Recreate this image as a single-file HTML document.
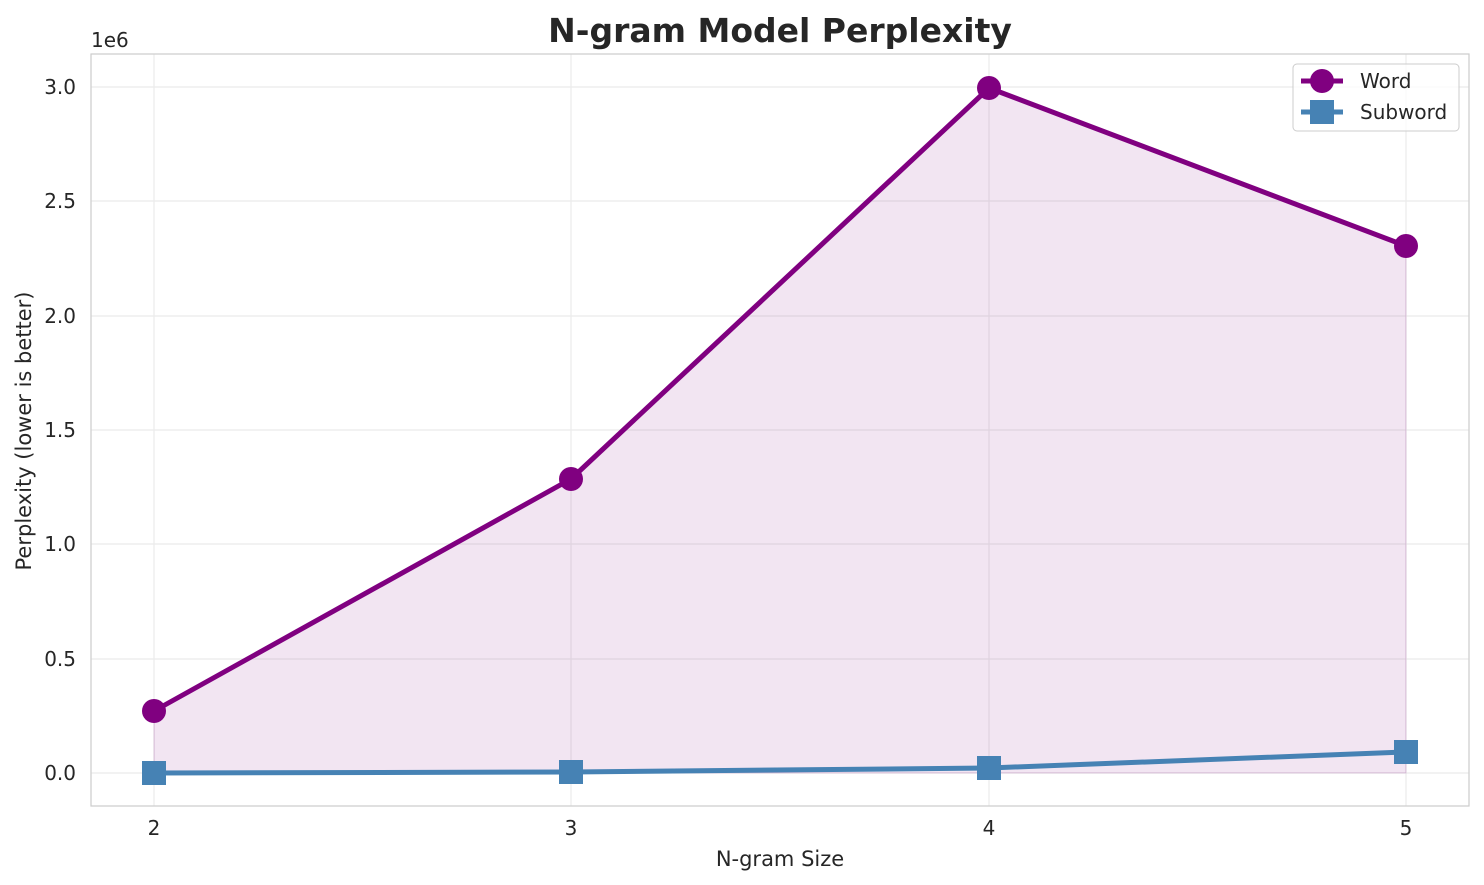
<!DOCTYPE html>
<html><head><meta charset="utf-8"><style>
html,body{margin:0;padding:0;background:#fff;}
svg{display:block;font-family:"DejaVu Sans","Liberation Sans",sans-serif;}
</style></head><body>
<svg width="1484" height="885" viewBox="0 0 1484 885" xmlns="http://www.w3.org/2000/svg">
<rect width="1484" height="885" fill="#fff"/>
<g stroke="#ebebeb" stroke-width="1.2">
<line x1="154" y1="54" x2="154" y2="806"/><line x1="571" y1="54" x2="571" y2="806"/>
<line x1="989" y1="54" x2="989" y2="806"/><line x1="1406" y1="54" x2="1406" y2="806"/>
<line x1="91" y1="773" x2="1469" y2="773"/><line x1="91" y1="659" x2="1469" y2="659"/>
<line x1="91" y1="544" x2="1469" y2="544"/><line x1="91" y1="430" x2="1469" y2="430"/>
<line x1="91" y1="316" x2="1469" y2="316"/><line x1="91" y1="201" x2="1469" y2="201"/>
<line x1="91" y1="87" x2="1469" y2="87"/>
</g>
<polygon points="154,711 571,479 989,88 1406,246 1406,773 154,773" fill="#800080" fill-opacity="0.1" stroke="#800080" stroke-opacity="0.15"/>
<polyline points="154,711 571,479 989,88 1406,246" fill="none" stroke="#800080" stroke-width="5" stroke-linejoin="round"/>
<g fill="#800080"><circle cx="154" cy="711" r="12"/><circle cx="571" cy="479" r="12"/><circle cx="989" cy="88" r="12"/><circle cx="1406" cy="246" r="12"/></g>
<polyline points="154,773 571,772 989,768 1406,752" fill="none" stroke="#4682b4" stroke-width="5" stroke-linejoin="round"/>
<g fill="#4682b4"><rect x="142" y="761" width="24" height="24"/><rect x="559" y="760" width="24" height="24"/><rect x="977" y="756" width="24" height="24"/><rect x="1394" y="740" width="24" height="24"/></g>
<rect x="91" y="54" width="1378" height="752" fill="none" stroke="#cccccc" stroke-width="1.2"/>
<g font-size="20" fill="#262626" text-anchor="end">
<text x="76" y="780">0.0</text><text x="76" y="666">0.5</text><text x="76" y="551">1.0</text>
<text x="76" y="437">1.5</text><text x="76" y="323">2.0</text><text x="76" y="208">2.5</text><text x="76" y="94">3.0</text>
</g>
<text x="91" y="47" font-size="20" fill="#262626">1e6</text>
<g font-size="20" fill="#262626" text-anchor="middle">
<text x="154" y="835">2</text><text x="571" y="835">3</text><text x="989" y="835">4</text><text x="1406" y="835">5</text>
</g>
<text x="780" y="866" font-size="21" fill="#262626" text-anchor="middle">N-gram Size</text>
<text transform="translate(31,431) rotate(-90)" font-size="21" fill="#262626" text-anchor="middle">Perplexity (lower is better)</text>
<text x="780" y="42" font-size="33" font-weight="bold" fill="#262626" text-anchor="middle">N-gram Model Perplexity</text>
<rect x="1293" y="64" width="166" height="67" rx="4" fill="#fff" fill-opacity="0.8" stroke="#cccccc"/>
<line x1="1301" y1="81" x2="1343" y2="81" stroke="#800080" stroke-width="5"/>
<circle cx="1322" cy="81" r="12" fill="#800080"/>
<line x1="1301" y1="112" x2="1343" y2="112" stroke="#4682b4" stroke-width="5"/>
<rect x="1310" y="100" width="24" height="24" fill="#4682b4"/>
<text x="1360" y="88" font-size="20" fill="#262626">Word</text>
<text x="1360" y="119" font-size="20" fill="#262626">Subword</text>
</svg>
</body></html>
